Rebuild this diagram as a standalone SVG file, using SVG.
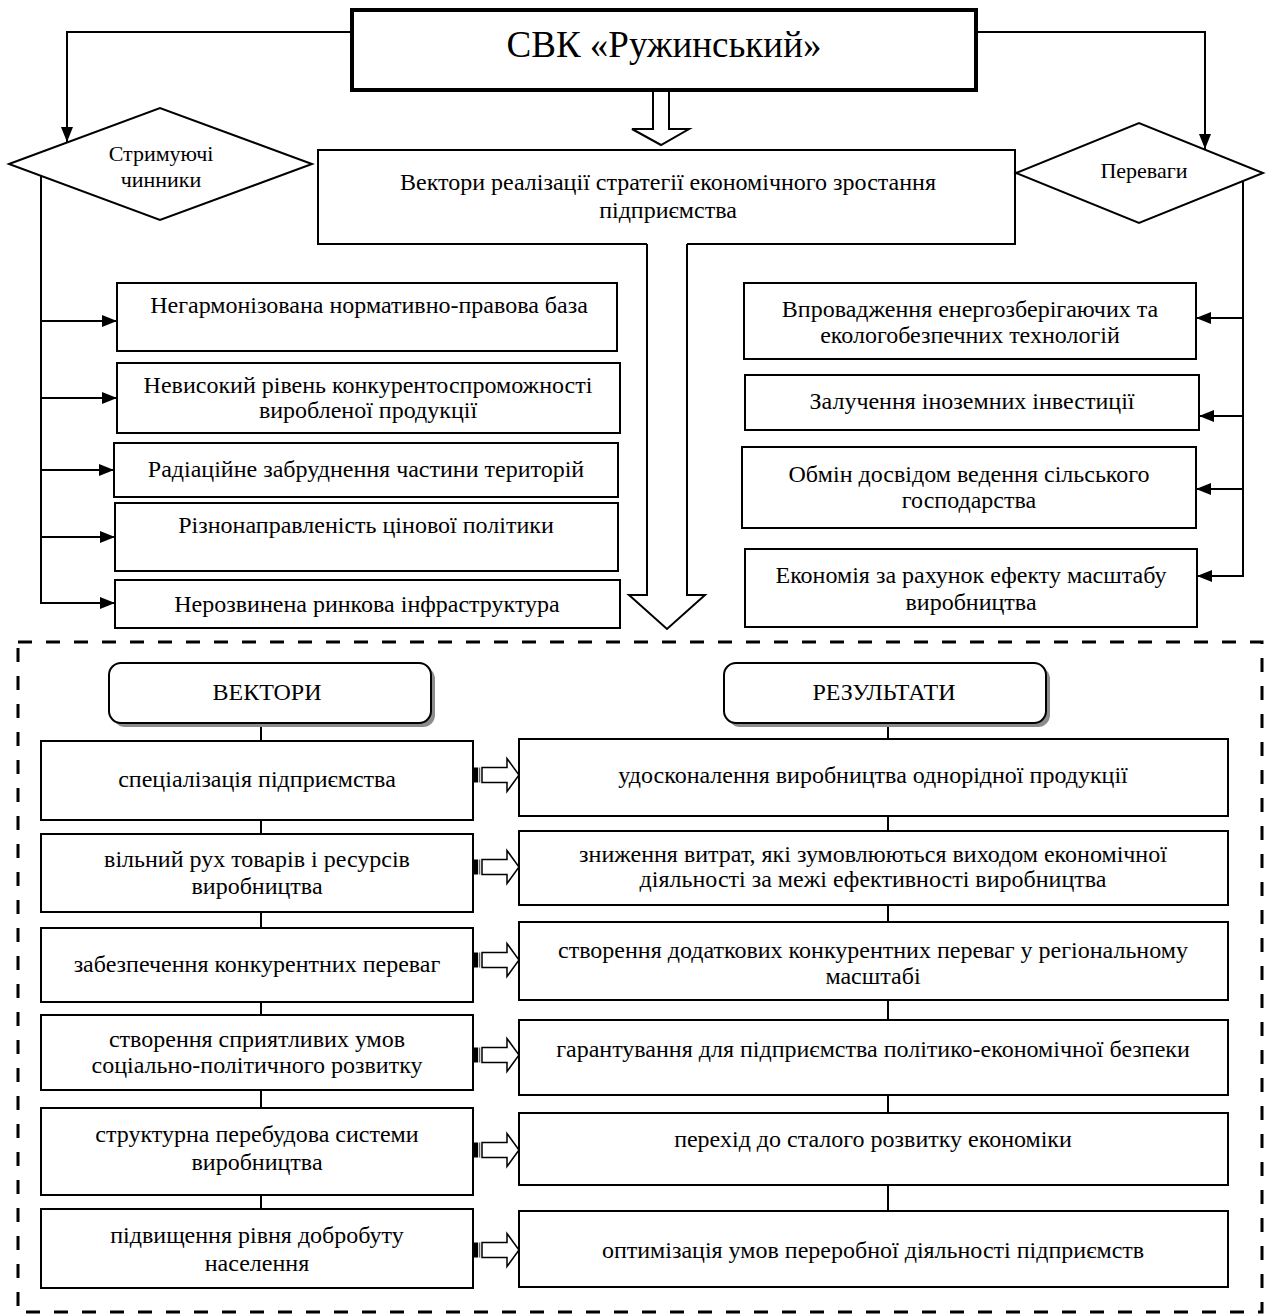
<svg xmlns="http://www.w3.org/2000/svg" width="1269" height="1316" viewBox="0 0 1269 1316">
<style>
text{font-family:"Liberation Serif","Times New Roman",serif;fill:#000;text-anchor:middle}
.t{font-size:24px}
.d{font-size:22px}
.bx{fill:#fff;stroke:#000;stroke-width:2}
.ln{fill:none;stroke:#000;stroke-width:2}
.hol{fill:#fff;stroke:#000;stroke-width:2;stroke-linejoin:miter}
.sh{fill:#8c8c8c}
</style>
<defs>
<marker id="ah" viewBox="0 0 15 12" refX="15" refY="6" markerWidth="15" markerHeight="12" orient="auto" markerUnits="userSpaceOnUse">
<path d="M0,0 L15,6 L0,12 z" fill="#000"/>
</marker>
<g id="sarrow">
<rect x="0" y="-7.5" width="5" height="15" fill="#000"/>
<line x1="6.5" y1="-7.5" x2="6.5" y2="7.5" stroke="#666" stroke-width="1.5"/>
<polygon points="9,-7.5 34,-7.5 34,-16.5 46,0 34,16.5 34,7.5 9,7.5" fill="#fff" stroke="#000" stroke-width="1.5"/>
</g>
</defs>
<rect width="1269" height="1316" fill="#fff"/>

<g id="connectors">
<polyline class="ln" points="352,32 67,32 67,142" marker-end="url(#ah)"/>
<polyline class="ln" points="976,32 1205,32 1205,149" marker-end="url(#ah)"/>
<line class="ln" x1="41" y1="176" x2="41" y2="604"/>
<line class="ln" x1="40" y1="321" x2="117" y2="321" marker-end="url(#ah)"/>
<line class="ln" x1="40" y1="398" x2="117" y2="398" marker-end="url(#ah)"/>
<line class="ln" x1="40" y1="470" x2="114" y2="470" marker-end="url(#ah)"/>
<line class="ln" x1="40" y1="537" x2="115" y2="537" marker-end="url(#ah)"/>
<line class="ln" x1="40" y1="603" x2="115" y2="603" marker-end="url(#ah)"/>
<line class="ln" x1="1243" y1="165" x2="1243" y2="577"/>
<line class="ln" x1="1244" y1="318" x2="1196" y2="318" marker-end="url(#ah)"/>
<line class="ln" x1="1244" y1="416" x2="1199" y2="416" marker-end="url(#ah)"/>
<line class="ln" x1="1244" y1="489" x2="1196" y2="489" marker-end="url(#ah)"/>
<line class="ln" x1="1244" y1="576" x2="1197" y2="576" marker-end="url(#ah)"/>
<path class="hol" d="M653,90 L653,129 L632,129 L661,145 L689,129 L669,129 L669,90"/>
<path class="hol" d="M647,244 L647,595 L629,595 L667,629 L705,595 L687,595 L687,244"/>
<g class="ln">
<line x1="261" y1="723" x2="261" y2="741"/>
<line x1="261" y1="820" x2="261" y2="834"/>
<line x1="261" y1="912" x2="261" y2="928"/>
<line x1="261" y1="1002" x2="261" y2="1015"/>
<line x1="261" y1="1090" x2="261" y2="1108"/>
<line x1="261" y1="1195" x2="261" y2="1209"/>
<line x1="888" y1="723" x2="888" y2="739"/>
<line x1="888" y1="816" x2="888" y2="831"/>
<line x1="888" y1="905" x2="888" y2="922"/>
<line x1="888" y1="1000" x2="888" y2="1020"/>
<line x1="888" y1="1095" x2="888" y2="1113"/>
<line x1="888" y1="1185" x2="888" y2="1211"/>
</g>
<use href="#sarrow" x="473" y="775"/>
<use href="#sarrow" x="473" y="867"/>
<use href="#sarrow" x="473" y="960"/>
<use href="#sarrow" x="473" y="1055"/>
<use href="#sarrow" x="473" y="1150"/>
<use href="#sarrow" x="473" y="1250"/>
</g>

<g id="frame">
<rect x="18" y="642" width="1244" height="670" fill="none" stroke="#000" stroke-width="3" stroke-dasharray="14 14"/>
</g>

<g id="top">
<rect x="352" y="10" width="624" height="80" fill="#fff" stroke="#000" stroke-width="4"/>
<text x="664" y="57" style="font-size:37px">СВК «Ружинський»</text>
</g>

<g id="vectors-main">
<path d="M647,244 L318,244 L318,150 L1015,150 L1015,244 L687,244" fill="none" stroke="#000" stroke-width="2"/>
<text class="t" x="668" y="190">Вектори реалізації стратегії економічного зростання</text>
<text class="t" x="668" y="218">підприємства</text>
</g>

<g id="restraining">
<polygon class="bx" points="9,164 160,108 312,164 160,220"/>
<text class="d" x="161" y="161">Стримуючі</text>
<text class="d" x="161" y="187">чинники</text>
</g>

<g id="advantages">
<polygon class="bx" points="1016,173 1139,123 1263,173 1139,223"/>
<text class="d" x="1144" y="178">Переваги</text>
</g>

<g id="l1"><rect class="bx" x="117" y="283" width="500" height="68"/><text class="t" x="369" y="313">Негармонізована нормативно-правова база</text></g>
<g id="l2"><rect class="bx" x="117" y="363" width="503" height="70"/><text class="t" x="368" y="393">Невисокий рівень конкурентоспроможності</text><text class="t" x="368" y="418">виробленої продукції</text></g>
<g id="l3"><rect class="bx" x="114" y="443" width="504" height="54"/><text class="t" x="366" y="477">Радіаційне забруднення частини територій</text></g>
<g id="l4"><rect class="bx" x="115" y="503" width="503" height="68"/><text class="t" x="366" y="533">Різнонаправленість цінової політики</text></g>
<g id="l5"><rect class="bx" x="115" y="580" width="505" height="48"/><text class="t" x="367" y="612">Нерозвинена ринкова інфраструктура</text></g>

<g id="r1"><rect class="bx" x="744" y="283" width="452" height="76"/><text class="t" x="970" y="317">Впровадження енергозберігаючих та</text><text class="t" x="970" y="343">екологобезпечних технологій</text></g>
<g id="r2"><rect class="bx" x="745" y="375" width="454" height="55"/><text class="t" x="972" y="409">Залучення іноземних інвестиції</text></g>
<g id="r3"><rect class="bx" x="742" y="447" width="454" height="81"/><text class="t" x="969" y="482">Обмін досвідом ведення сільського</text><text class="t" x="969" y="508">господарства</text></g>
<g id="r4"><rect class="bx" x="745" y="549" width="452" height="78"/><text class="t" x="971" y="583">Економія за рахунок ефекту масштабу</text><text class="t" x="971" y="610">виробництва</text></g>

<g id="vectors-head">
<rect class="sh" x="113" y="667" width="322" height="60" rx="12"/>
<rect class="bx" x="109" y="663" width="322" height="60" rx="12"/>
<text class="t" x="267" y="700">ВЕКТОРИ</text>
</g>
<g id="results-head">
<rect class="sh" x="728" y="667" width="322" height="60" rx="12"/>
<rect class="bx" x="724" y="663" width="322" height="60" rx="12"/>
<text class="t" x="884" y="700">РЕЗУЛЬТАТИ</text>
</g>

<g id="v1"><rect class="bx" x="41" y="741" width="432" height="79"/><text class="t" x="257" y="787">спеціалізація підприємства</text></g>
<g id="v2"><rect class="bx" x="41" y="834" width="432" height="78"/><text class="t" x="257" y="867">вільний рух товарів і ресурсів</text><text class="t" x="257" y="894">виробництва</text></g>
<g id="v3"><rect class="bx" x="41" y="928" width="432" height="74"/><text class="t" x="257" y="972">забезпечення конкурентних переваг</text></g>
<g id="v4"><rect class="bx" x="41" y="1015" width="432" height="75"/><text class="t" x="257" y="1047">створення сприятливих умов</text><text class="t" x="257" y="1073">соціально-політичного розвитку</text></g>
<g id="v5"><rect class="bx" x="41" y="1108" width="432" height="87"/><text class="t" x="257" y="1142">структурна перебудова системи</text><text class="t" x="257" y="1170">виробництва</text></g>
<g id="v6"><rect class="bx" x="41" y="1209" width="432" height="79"/><text class="t" x="257" y="1243">підвищення рівня добробуту</text><text class="t" x="257" y="1271">населення</text></g>

<g id="res1"><rect class="bx" x="519" y="739" width="709" height="77"/><text class="t" x="873" y="783">удосконалення виробництва однорідної продукції</text></g>
<g id="res2"><rect class="bx" x="519" y="831" width="709" height="74"/><text class="t" x="873" y="862">зниження витрат, які зумовлюються виходом економічної</text><text class="t" x="873" y="887">діяльності за межі ефективності виробництва</text></g>
<g id="res3"><rect class="bx" x="519" y="922" width="709" height="78"/><text class="t" x="873" y="958">створення додаткових конкурентних переваг у регіональному</text><text class="t" x="873" y="984">масштабі</text></g>
<g id="res4"><rect class="bx" x="519" y="1020" width="709" height="75"/><text class="t" x="873" y="1057">гарантування для підприємства політико-економічної безпеки</text></g>
<g id="res5"><rect class="bx" x="519" y="1113" width="709" height="72"/><text class="t" x="873" y="1147">перехід до сталого розвитку економіки</text></g>
<g id="res6"><rect class="bx" x="519" y="1211" width="709" height="76"/><text class="t" x="873" y="1258">оптимізація умов переробної діяльності підприємств</text></g>
</svg>
